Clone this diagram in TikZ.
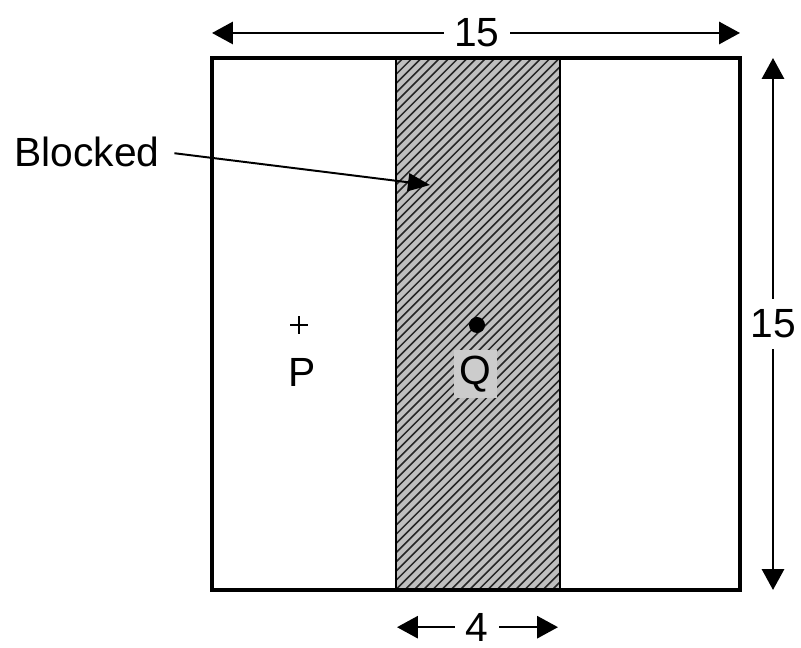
\documentclass[tikz,border=0pt]{standalone}
\usepackage{fontspec}
\setmainfont{Liberation Sans}
\usetikzlibrary{arrows.meta}
\tikzset{
	dim/.style={-{Triangle[length=0.52cm,width=0.55cm]},line width=1.8pt},
	dimlabel/.style={inner sep=0pt,outer sep=0.27cm},
	big/.style={font=\fontsize{29}{34}\selectfont},
	hatch/.style={line width=1.1pt,black!85}
}

\begin{document}
\begin{tikzpicture}
	\useasboundingbox (0,0) rectangle (20.025,16.2);
	
	%square corners
	\coordinate (sw) at (5.3,1.45);
	\coordinate (ne) at (18.5,14.75);
	
	%blocked strip
	\fill[gray!50] (9.9,1.45) rectangle (14,14.75);
	\begin{scope}
		\clip (9.9,1.45) rectangle (14,14.75);
		\foreach \x in {-3.45,-3.22,...,14.1}
			\draw[hatch] (\x,1.45) -- ++(13.3,13.3);	%diagonal lines
	\end{scope}
	\draw[line width=2pt] (9.9,1.45) -- (9.9,14.75);		%left edge
	\draw[line width=2pt] (14,1.45) -- (14,14.75);		%right edge
	\draw[line width=2.2pt] (sw) rectangle (ne);			%outer square
	
	%points
	\coordinate (pcross) at (7.475,8.075);
	\draw[line width=1pt] ([xshift=-0.22cm]pcross) -- ([xshift=0.22cm]pcross);	%plus
	\draw[line width=1pt] ([yshift=-0.22cm]pcross) -- ([yshift=0.22cm]pcross);
	\node[big] (plab) at (7.55,6.9) {P};
	\node[circle,fill,inner sep=0pt,minimum size=0.4cm] (qdot) at (11.925,8.075) {};
	\node[big,fill=gray!40,inner sep=0pt,minimum width=1.075cm,minimum height=1.2cm] (qlab) at (11.89,6.85) {Q};
	
	%blocked caption
	\node[big] (blocked) at (2.175,12.4) {Blocked};
	\coordinate (blkend) at (10.75,11.575);
	\draw[-{Triangle[length=0.55cm,width=0.45cm]},line width=1.4pt,shorten <=0.25cm] (blocked.east) -- (blkend);
	
	%top dimension
	\coordinate (tl) at (5.3,15.375);
	\coordinate (tr) at (18.5,15.375);
	\node[big,dimlabel] (topdim) at (11.925,15.375) {15};
	\draw[dim] (topdim.west) -- (tl);
	\draw[dim] (topdim.east) -- (tr);
	
	%side dimension
	\coordinate (rt) at (19.325,14.75);
	\coordinate (rb) at (19.325,1.45);
	\node[big,dimlabel] (sidedim) at (19.325,8.1) {15};
	\draw[dim] (sidedim.north) -- (rt);
	\draw[dim] (sidedim.south) -- (rb);
	
	%bottom dimension
	\coordinate (bl) at (9.925,0.52);
	\coordinate (br) at (13.95,0.52);
	\node[big,dimlabel] (botdim) at (11.925,0.52) {4};
	\draw[dim] (botdim.west) -- (bl);
	\draw[dim] (botdim.east) -- (br);
\end{tikzpicture}
\end{document}
